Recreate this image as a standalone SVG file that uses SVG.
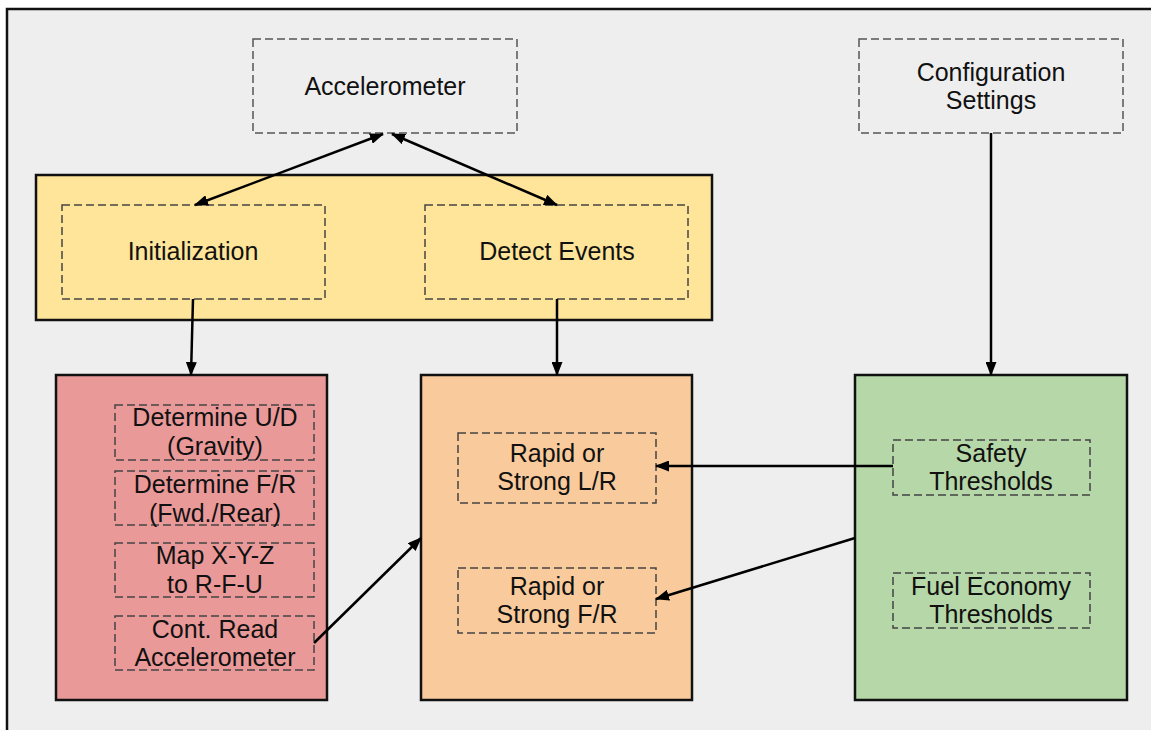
<svg xmlns="http://www.w3.org/2000/svg" width="1151" height="730" viewBox="0 0 1151 730">
<defs>
<marker id="ah" viewBox="0 0 14 11" refX="13" refY="5.5" markerWidth="14" markerHeight="11" markerUnits="userSpaceOnUse" orient="auto-start-reverse">
<path d="M0,0 L14,5.5 L0,11 Z" fill="#000"/>
</marker>
<style>
.t{font-family:"Liberation Sans",Arial,sans-serif;font-size:25px;fill:#111;text-anchor:middle}
.d{fill:none;stroke:#555;stroke-width:1.5;stroke-dasharray:8 4}
.di{fill:none;stroke:#444;stroke-width:1.5;stroke-dasharray:8 4}
.b{stroke:#111;stroke-width:2.5}
.c{fill:none;stroke:#000;stroke-width:2.5}
</style>
</defs>
<rect x="0" y="0" width="1151" height="730" fill="#fff"/>
<rect x="7" y="9" width="1160" height="740" fill="#eeeeee" stroke="#111" stroke-width="2.5"/>

<g id="accelerometer">
<rect class="d" x="253" y="39" width="264" height="94"/>
<text class="t" x="385" y="95">Accelerometer</text>
</g>
<g id="config">
<rect class="d" x="859" y="39" width="264" height="94"/>
<text class="t" x="991" y="81">Configuration</text>
<text class="t" x="991" y="109">Settings</text>
</g>

<g id="top-group">
<rect class="b" x="36" y="175" width="676" height="145" fill="#ffe599"/>
</g>
<g id="initialization">
<rect class="di" x="62" y="205" width="263" height="94"/>
<text class="t" x="193" y="260">Initialization</text>
</g>
<g id="detect-events">
<rect class="di" x="425" y="205" width="263" height="94"/>
<text class="t" x="557" y="260">Detect Events</text>
</g>

<g id="init-box">
<rect class="b" x="56" y="375" width="271" height="325" fill="#ea9999"/>
</g>
<g id="det-ud">
<rect class="di" x="115" y="405" width="199" height="55"/>
<text class="t" x="215" y="426">Determine U/D</text>
<text class="t" x="215" y="455">(Gravity)</text>
</g>
<g id="det-fr">
<rect class="di" x="115" y="471" width="199" height="54"/>
<text class="t" x="215" y="493">Determine F/R</text>
<text class="t" x="215" y="522">(Fwd./Rear)</text>
</g>
<g id="map-xyz">
<rect class="di" x="115" y="543" width="199" height="54"/>
<text class="t" x="215" y="564">Map X-Y-Z</text>
<text class="t" x="215" y="593">to R-F-U</text>
</g>
<g id="cont-read">
<rect class="di" x="115" y="616" width="199" height="54"/>
<text class="t" x="215" y="638">Cont. Read</text>
<text class="t" x="215" y="666">Accelerometer</text>
</g>

<g id="events-box">
<rect class="b" x="421" y="375" width="271" height="325" fill="#f9cb9c"/>
</g>
<g id="rapid-lr">
<rect class="di" x="458" y="433" width="198" height="70"/>
<text class="t" x="557" y="462">Rapid or</text>
<text class="t" x="557" y="490">Strong L/R</text>
</g>
<g id="rapid-fr">
<rect class="di" x="458" y="568" width="198" height="65"/>
<text class="t" x="557" y="595">Rapid or</text>
<text class="t" x="557" y="623">Strong F/R</text>
</g>

<g id="config-box">
<rect class="b" x="855" y="375" width="272" height="325" fill="#b6d7a8"/>
</g>
<g id="safety">
<rect class="di" x="893" y="440" width="197" height="55"/>
<text class="t" x="991" y="462">Safety</text>
<text class="t" x="991" y="490">Thresholds</text>
</g>
<g id="fuel">
<rect class="di" x="893" y="573" width="197" height="55"/>
<text class="t" x="991" y="595">Fuel Economy</text>
<text class="t" x="991" y="623">Thresholds</text>
</g>

<g id="connectors">
<line class="c" x1="195" y1="205" x2="383" y2="134" marker-start="url(#ah)" marker-end="url(#ah)"/>
<line class="c" x1="557" y1="205" x2="392" y2="134" marker-start="url(#ah)" marker-end="url(#ah)"/>
<line class="c" x1="193" y1="299" x2="191" y2="375" marker-end="url(#ah)"/>
<line class="c" x1="557" y1="299" x2="557" y2="375" marker-end="url(#ah)"/>
<line class="c" x1="991" y1="133" x2="991" y2="375" marker-end="url(#ah)"/>
<line class="c" x1="893" y1="466" x2="656" y2="466" marker-end="url(#ah)"/>
<line class="c" x1="855" y1="538" x2="656" y2="599" marker-end="url(#ah)"/>
<line class="c" x1="314" y1="643" x2="421" y2="538" marker-end="url(#ah)"/>
</g>
</svg>
